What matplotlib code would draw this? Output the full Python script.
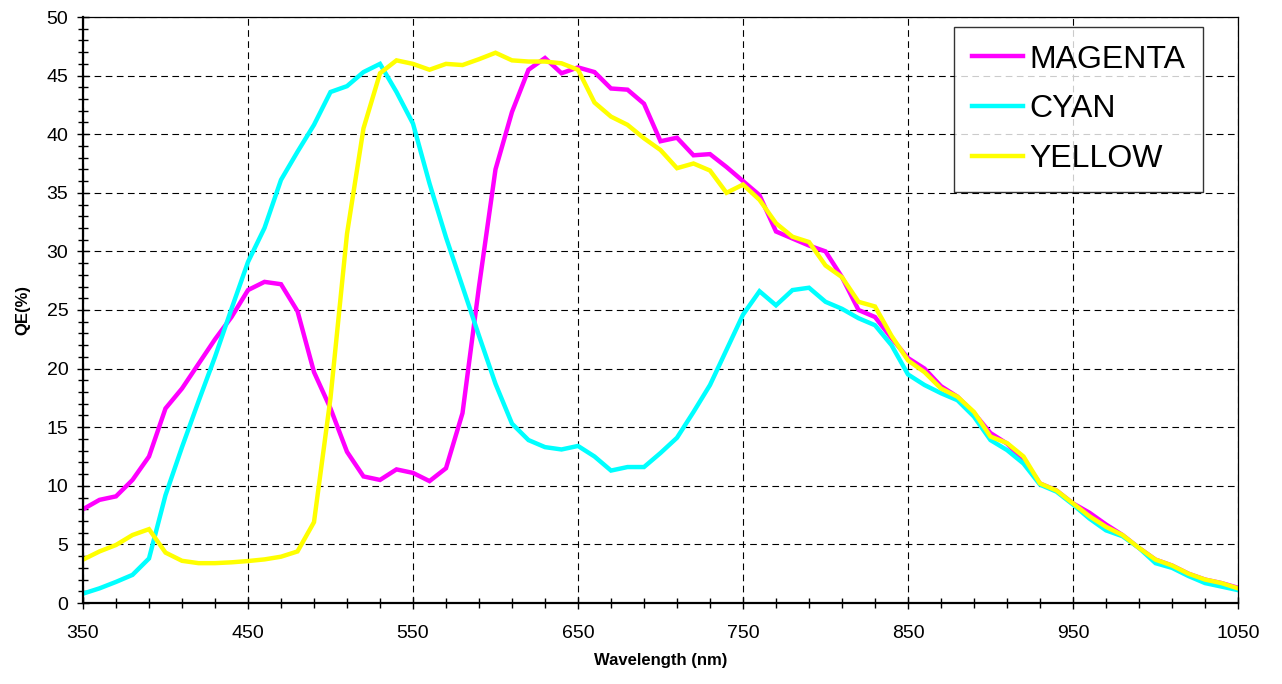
import numpy as np
import matplotlib
matplotlib.use("Agg")
import matplotlib.pyplot as plt
import matplotlib.ticker as mticker

plt.rcParams["font.family"] = ["Liberation Sans", "DejaVu Sans"]

# 1. DATOS (QE en %, cada 10 nm de 350 a 1050)
wavelength = list(range(350, 1051, 10))

magenta = [
    8.0, 8.8, 9.1, 10.5, 12.5, 16.6, 18.3, 20.4, 22.5, 24.4,
    26.7, 27.4, 27.2, 24.9, 19.7, 16.6, 12.9, 10.8, 10.5, 11.4,
    11.1, 10.4, 11.5, 16.2, 27.0, 37.0, 41.9, 45.5, 46.5, 45.2,
    45.7, 45.3, 43.9, 43.8, 42.6, 39.4, 39.7, 38.2, 38.3, 37.2,
    36.0, 34.8, 31.7, 31.1, 30.5, 30.0, 27.8, 25.0, 24.4, 22.6,
    20.9, 20.0, 18.5, 17.6, 16.2, 14.5, 13.6, 12.2, 10.2, 9.6,
    8.5, 7.7, 6.7, 5.8, 4.7, 3.7, 3.2, 2.5, 2.0, 1.7, 1.3,
]

cyan = [
    0.8, 1.25, 1.8, 2.4, 3.8, 9.2, 13.3, 17.2, 21.0, 25.1,
    29.1, 32.0, 36.1, 38.5, 40.8, 43.6, 44.1, 45.3, 46.0, 43.6,
    40.9, 35.8, 31.2, 27.0, 22.8, 18.7, 15.3, 13.9, 13.3, 13.1,
    13.4, 12.5, 11.3, 11.6, 11.6, 12.8, 14.1, 16.3, 18.6, 21.6,
    24.6, 26.6, 25.4, 26.7, 26.9, 25.7, 25.1, 24.3, 23.7, 22.0,
    19.5, 18.6, 17.9, 17.3, 15.9, 13.9, 13.05, 11.9, 10.1, 9.5,
    8.4, 7.2, 6.2, 5.7, 4.7, 3.4, 3.0, 2.3, 1.7, 1.4, 1.1,
]

yellow = [
    3.7, 4.4, 4.95, 5.8, 6.3, 4.3, 3.6, 3.4, 3.4, 3.47,
    3.58, 3.72, 3.95, 4.4, 6.9, 17.5, 31.5, 40.5, 45.2, 46.3,
    46.0, 45.5, 46.0, 45.9, 46.4, 46.95, 46.3, 46.2, 46.2, 46.05,
    45.5, 42.7, 41.5, 40.8, 39.65, 38.65, 37.1, 37.5, 36.9, 35.0,
    35.7, 34.4, 32.4, 31.25, 30.8, 28.8, 27.8, 25.7, 25.3, 22.8,
    20.7, 19.7, 18.3, 17.6, 16.3, 14.2, 13.65, 12.5, 10.2, 9.6,
    8.5, 7.4, 6.5, 5.8, 4.7, 3.7, 3.2, 2.5, 2.0, 1.7, 1.25,
]

series = [("MAGENTA", magenta, "#FF00FF"),
          ("CYAN", cyan, "#00FFFF"),
          ("YELLOW", yellow, "#FFFF00")]

# 2. Grafico
fig = plt.figure(figsize=(12.82, 6.84), dpi=100)
ax = fig.add_axes([83 / 1282, 81 / 684, 1155 / 1282, 586 / 684])

for name, vals, col in series:
    ax.plot(wavelength, vals, color=col, lw=3.2, label=name,
            solid_joinstyle="miter")

ax.set_xlim(350, 1050)
ax.set_ylim(0, 50)
ax.xaxis.set_major_locator(mticker.MultipleLocator(100, offset=50))
ax.xaxis.set_minor_locator(mticker.MultipleLocator(20, offset=10))
ax.yaxis.set_major_locator(mticker.MultipleLocator(5))
ax.yaxis.set_minor_locator(mticker.MultipleLocator(1))

ax.grid(True, which="major", color="black", linestyle=(0, (6, 4)), lw=0.8)
ax.set_axisbelow(True)

ax.tick_params(which="both", direction="inout", labelsize=14, colors="black")
ax.tick_params(which="major", length=9, width=1)
ax.tick_params(which="minor", length=7, width=1)
ax.tick_params(axis="x", pad=11)
ax.tick_params(axis="y", pad=6)

for side in ["left", "bottom"]:
    ax.spines[side].set_linewidth(1.6)
for side in ["top", "right"]:
    ax.spines[side].set_linewidth(0.9)

ax.set_xlabel("Wavelength (nm)", fontsize=12, fontweight="bold", labelpad=8)
ax.set_ylabel("QE(%)", fontsize=12, fontweight="bold", labelpad=12)

leg = ax.legend(loc="upper right", bbox_to_anchor=(0.970, 0.983),
                fontsize=23, frameon=True, fancybox=False,
                edgecolor="black", handlelength=1.6, handletextpad=0.22,
                labelspacing=0.62, borderpad=0.55, borderaxespad=0.0)
leg.get_frame().set_linewidth(1.0)

plt.savefig("out.png", dpi=100)
